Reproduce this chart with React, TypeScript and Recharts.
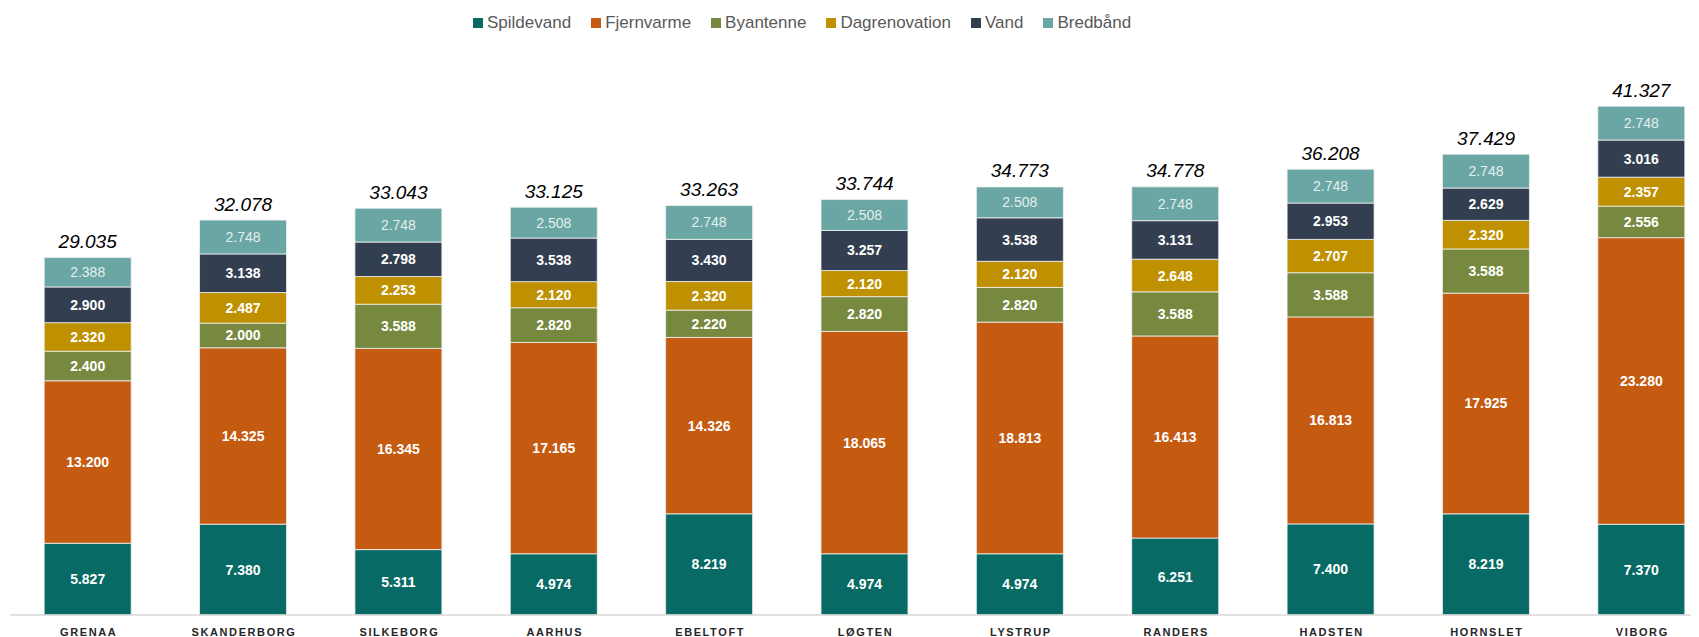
import React from "react";
import { BarChart, Bar, XAxis, YAxis, LabelList } from "recharts";

const categories = ["GRENAA", "SKANDERBORG", "SILKEBORG", "AARHUS", "EBELTOFT", "LØGTEN", "LYSTRUP", "RANDERS", "HADSTEN", "HORNSLET", "VIBORG"];
const spildevand = [5.827, 7.38, 5.311, 4.974, 8.219, 4.974, 4.974, 6.251, 7.4, 8.219, 7.37];
const fjernvarme = [13.2, 14.325, 16.345, 17.165, 14.326, 18.065, 18.813, 16.413, 16.813, 17.925, 23.28];
const byantenne = [2.4, 2.0, 3.588, 2.82, 2.22, 2.82, 2.82, 3.588, 3.588, 3.588, 2.556];
const dagrenovation = [2.32, 2.487, 2.253, 2.12, 2.32, 2.12, 2.12, 2.648, 2.707, 2.32, 2.357];
const vand = [2.9, 3.138, 2.798, 3.538, 3.43, 3.257, 3.538, 3.131, 2.953, 2.629, 3.016];
const bredbaand = [2.388, 2.748, 2.748, 2.508, 2.748, 2.508, 2.508, 2.748, 2.748, 2.748, 2.748];
const totals = [29.035, 32.078, 33.043, 33.125, 33.263, 33.744, 34.773, 34.778, 36.208, 37.429, 41.327];

const series = [
  { key: "Spildevand", values: spildevand, color: "#076A64" },
  { key: "Fjernvarme", values: fjernvarme, color: "#C55A11" },
  { key: "Byantenne", values: byantenne, color: "#77893F" },
  { key: "Dagrenovation", values: dagrenovation, color: "#BF9000" },
  { key: "Vand", values: vand, color: "#333F50" },
  { key: "Bredbånd", values: bredbaand, color: "#6AA6A3" },
];

const data = categories.map((c, i) => {
  const row: Record<string, any> = { name: c, total: totals[i] };
  series.forEach((s) => (row[s.key] = s.values[i]));
  return row;
});

const fmt = (v: number) => v.toFixed(3);
const FONT = "'Liberation Sans', Arial, sans-serif";

const makeInnerLabel = (light: boolean) => (props: any) => {
  const { x, y, width, height, value } = props;
  return (
    <text
      x={x + width / 2}
      y={y + height / 2}
      textAnchor="middle"
      dominantBaseline="central"
      fill={light ? "#E4EFEE" : "#FFFFFF"}
      fontFamily={FONT}
      fontSize={14}
      fontWeight={light ? 400 : 700}
    >
      {fmt(value)}
    </text>
  );
};

const TotalLabel = (props: any) => {
  const { x, y, width, value } = props;
  return (
    <text
      x={x + width / 2}
      y={y - 16}
      textAnchor="middle"
      dominantBaseline="central"
      fill="#000"
      fontFamily={FONT}
      fontSize={19}
      fontStyle="italic"
    >
      {fmt(value)}
    </text>
  );
};

const Tick = (props: any) => {
  const { x, y, payload } = props;
  return (
    <text
      x={x + 1}
      y={y}
      dy={11}
      textAnchor="middle"
      dominantBaseline="central"
      fill="#262626"
      fontFamily={FONT}
      fontSize={11}
      fontWeight={700}
      letterSpacing={1.6}
    >
      {payload.value}
    </text>
  );
};

const Legend = () => (
  <div
    style={{
      position: "absolute",
      top: 6,
      left: 465,
      display: "flex",
      alignItems: "center",
      gap: 20,
      fontFamily: FONT,
      fontSize: 17,
      color: "#595959",
      lineHeight: "18px",
      whiteSpace: "nowrap",
    }}
  >
    {series.map((s) => (
      <div key={s.key} style={{ display: "flex", alignItems: "center" }}>
        <span style={{ display: "inline-block", width: 10, height: 10, background: s.color, marginRight: 4 }} />
        <span>{s.key}</span>
      </div>
    ))}
  </div>
);

export default function App() {
  return (
    <div style={{ position: "relative", width: 1691, height: 629, overflow: "hidden" }}>
      <Legend />
      <BarChart
        width={1711}
        height={629}
        data={data}
        margin={{ top: 53, right: 0, left: 2, bottom: 0 }}
        barCategoryGap="22%"
      >
        <XAxis
          dataKey="name"
          axisLine={{ stroke: "#D9D9D9", strokeWidth: 1.5 }}
          tickLine={false}
          height={22}
          tickMargin={0}
          tick={<Tick />}
          interval={0}
        />
        <YAxis hide domain={[0, 45]} />
        {series.map((s, idx) => (
          <Bar
            key={s.key}
            dataKey={s.key}
            stackId="a"
            fill={s.color}
            stroke="#F2F2F2"
            strokeWidth={0.8}
            isAnimationActive={false}
          >
            <LabelList dataKey={s.key} content={makeInnerLabel(idx === 5)} />
            {idx === 5 && <LabelList dataKey="total" content={<TotalLabel />} />}
          </Bar>
        ))}
      </BarChart>
    </div>
  );
}
